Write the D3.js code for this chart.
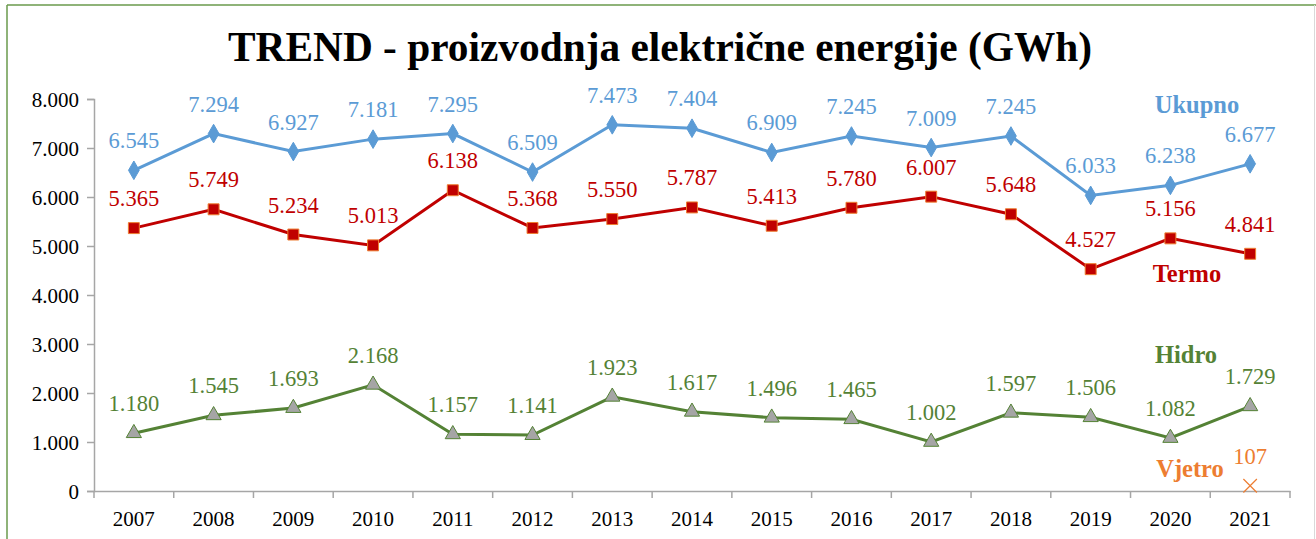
<!DOCTYPE html>
<html>
<head>
<meta charset="utf-8">
<script src="https://cdn.jsdelivr.net/npm/d3@7"></script>
<style>
  body { margin: 0; background: #fff; }
  svg { display: block; font-family: "Liberation Serif", "Times New Roman", serif; }
</style>
</head>
<body>
<svg id="chart" width="1316" height="539"></svg>
<script>
// data
let years = ["2007","2008","2009","2010","2011","2012","2013","2014","2015","2016","2017","2018","2019","2020","2021"];
let ukupno = [6545, 7294, 6927, 7181, 7295, 6509, 7473, 7404, 6909, 7245, 7009, 7245, 6033, 6238, 6677];
let termo  = [5365, 5749, 5234, 5013, 6138, 5368, 5550, 5787, 5413, 5780, 6007, 5648, 4527, 5156, 4841];
let hidro  = [1180, 1545, 1693, 2168, 1157, 1141, 1923, 1617, 1496, 1465, 1002, 1597, 1506, 1082, 1729];
let vjetro = [null, null, null, null, null, null, null, null, null, null, null, null, null, null, 107];
let yTicks = [0, 1000, 2000, 3000, 4000, 5000, 6000, 7000, 8000];

let locale = d3.formatLocale({decimal: ",", thousands: ".", grouping: [3], currency: ["", ""]});
let fmt = locale.format(",.0f");

let svg = d3.select("#chart");

// frame
svg.append("line").attr("x1", 7).attr("y1", 5).attr("x2", 1316).attr("y2", 5)
    .attr("stroke", "#6a9a4c").attr("stroke-width", 1.5);
svg.append("line").attr("x1", 7).attr("y1", 5).attr("x2", 7).attr("y2", 539)
    .attr("stroke", "#6a9a4c").attr("stroke-width", 1.5);
svg.append("line").attr("x1", 1314.5).attr("y1", 5).attr("x2", 1314.5).attr("y2", 539)
    .attr("stroke", "#d9d9d9").attr("stroke-width", 1);

svg.append("text")
    .attr("x", 660).attr("y", 61)
    .attr("text-anchor", "middle")
    .attr("font-size", 42).attr("font-weight", "bold")
    .attr("textLength", 864).attr("lengthAdjust", "spacingAndGlyphs")
    .text("TREND - proizvodnja električne energije (GWh)");

let x = d3.scaleBand().domain(years).range([94, 1290]);
let y = d3.scaleLinear().domain([0, 8000]).range([491, 99]);

// axes
let yAxis = svg.append("g").attr("transform", "translate(94,0)")
    .call(d3.axisLeft(y).tickValues(yTicks).tickFormat(fmt).tickSize(7).tickPadding(8));
let xAxis = svg.append("g").attr("transform", "translate(0,491)")
    .call(d3.axisBottom(x).tickSize(0).tickPadding(20));
xAxis.selectAll(".tick").append("line")
    .attr("x1", -x.bandwidth() / 2).attr("x2", -x.bandwidth() / 2)
    .attr("y1", 0).attr("y2", 7);
xAxis.append("line").attr("x1", 1290).attr("x2", 1290).attr("y1", 0).attr("y2", 7);

[yAxis, xAxis].forEach(function(a) {
    a.selectAll("path, line").attr("stroke", "#a6a6a6").attr("stroke-width", 1.5);
    a.selectAll("text").attr("font-size", 21).attr("fill", "#000")
        .attr("font-family", "Liberation Serif, Times New Roman, serif");
});
yAxis.selectAll("text").attr("dy", "0.36em");

let cx = function(i) { return x(years[i]) + x.bandwidth() / 2; };

let series = [
    {name: "Ukupno", values: ukupno, color: "#5b9bd5", marker: d3.symbolDiamond, size: 100, fill: "#5b9bd5", stroke: "#5b9bd5"},
    {name: "Termo", values: termo, color: "#c00000", marker: d3.symbolSquare, size: 120, fill: "#c00000", stroke: "#ed7d31"},
    {name: "Hidro", values: hidro, color: "#548235", marker: d3.symbolTriangle, size: 100, fill: "#a5a5a5", stroke: "#548235"},
    {name: "Vjetro", values: vjetro, color: "#ed7d31", marker: d3.symbolX, size: 120, fill: "none", stroke: "#ed7d31"}
];

let line = d3.line()
    .defined(function(d) { return d != null; })
    .x(function(d, i) { return cx(i); })
    .y(function(d) { return y(d); });

series.forEach(function(s) {
    let g = svg.append("g");
    g.append("path")
        .datum(s.values)
        .attr("d", line)
        .attr("fill", "none")
        .attr("stroke", s.color)
        .attr("stroke-width", 3);

    let pts = s.values.map(function(v, i) { return {v: v, i: i}; })
        .filter(function(d) { return d.v != null; });

    g.selectAll("path.mk")
        .data(pts)
        .join("path")
        .attr("class", "mk")
        .attr("d", d3.symbol().type(s.marker).size(s.size))
        .attr("transform", function(d) { return "translate(" + cx(d.i) + "," + y(d.v) + ")"; })
        .attr("fill", s.fill)
        .attr("stroke", s.stroke)
        .attr("stroke-width", s.marker === d3.symbolX ? 1.2 : 1);

    g.selectAll("text.lbl")
        .data(pts)
        .join("text")
        .attr("class", "lbl")
        .attr("x", function(d) { return cx(d.i); })
        .attr("y", function(d) { return y(d.v) - 22; })
        .attr("text-anchor", "middle")
        .attr("font-size", 22.5)
        .attr("fill", s.color)
        .text(function(d) { return fmt(d.v); });
});

// series names
let names = [
    {text: "Ukupno", x: 1197, y: 113, color: "#5b9bd5"},
    {text: "Termo", x: 1187, y: 282, color: "#c00000"},
    {text: "Hidro", x: 1186, y: 363, color: "#548235"},
    {text: "Vjetro", x: 1190, y: 477, color: "#ed7d31"}
];
svg.selectAll("text.name")
    .data(names)
    .join("text")
    .attr("class", "name")
    .attr("x", function(d) { return d.x; })
    .attr("y", function(d) { return d.y; })
    .attr("text-anchor", "middle")
    .attr("font-size", 24.5)
    .attr("font-weight", "bold")
    .attr("fill", function(d) { return d.color; })
    .text(function(d) { return d.text; });
</script>
</body>
</html>
